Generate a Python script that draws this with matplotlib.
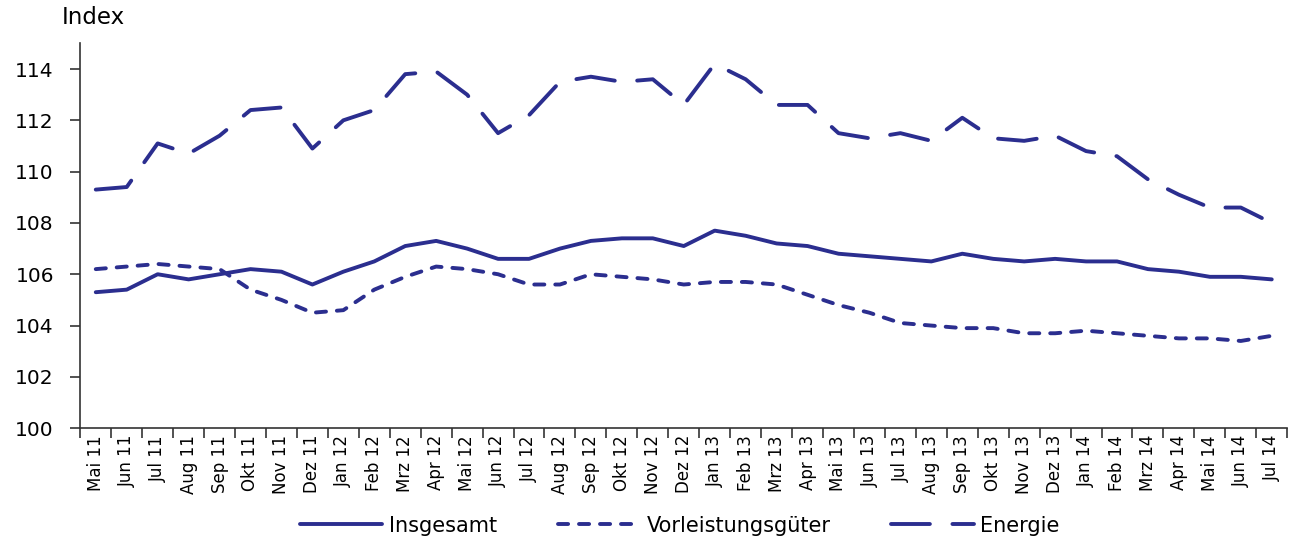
import matplotlib.pyplot as plt

# Monate Mai 2011 bis Juli 2014
months = ['Mai', 'Jun', 'Jul', 'Aug', 'Sep', 'Okt', 'Nov', 'Dez',
          'Jan', 'Feb', 'Mrz', 'Apr', 'Mai', 'Jun', 'Jul', 'Aug', 'Sep', 'Okt', 'Nov', 'Dez',
          'Jan', 'Feb', 'Mrz', 'Apr', 'Mai', 'Jun', 'Jul', 'Aug', 'Sep', 'Okt', 'Nov', 'Dez',
          'Jan', 'Feb', 'Mrz', 'Apr', 'Mai', 'Jun', 'Jul']
years = ['11'] * 8 + ['12'] * 12 + ['13'] * 12 + ['14'] * 7
labels = [m + ' ' + y for m, y in zip(months, years)]

insgesamt = [105.3, 105.4, 106.0, 105.8, 106.0, 106.2, 106.1, 105.6,
             106.1, 106.5, 107.1, 107.3, 107.0, 106.6, 106.6, 107.0, 107.3, 107.4, 107.4, 107.1,
             107.7, 107.5, 107.2, 107.1, 106.8, 106.7, 106.6, 106.5, 106.8, 106.6, 106.5, 106.6,
             106.5, 106.5, 106.2, 106.1, 105.9, 105.9, 105.8]

vorleistung = [106.2, 106.3, 106.4, 106.3, 106.2, 105.4, 105.0, 104.5,
               104.6, 105.4, 105.9, 106.3, 106.2, 106.0, 105.6, 105.6, 106.0, 105.9, 105.8, 105.6,
               105.7, 105.7, 105.6, 105.2, 104.8, 104.5, 104.1, 104.0, 103.9, 103.9, 103.7, 103.7,
               103.8, 103.7, 103.6, 103.5, 103.5, 103.4, 103.6]

energie = [109.3, 109.4, 111.1, 110.7, 111.4, 112.4, 112.5, 110.9,
           112.0, 112.4, 113.8, 113.9, 113.0, 111.5, 112.2, 113.5, 113.7, 113.5, 113.6, 112.6,
           114.2, 113.6, 112.6, 112.6, 111.5, 111.3, 111.5, 111.2, 112.1, 111.3, 111.2, 111.4,
           110.8, 110.6, 109.7, 109.1, 108.6, 108.6, 108.0]

color = '#2b2e8f'
x = list(range(len(labels)))

fig = plt.figure(figsize=(12.95, 5.42), dpi=100)
ax = fig.add_axes([0.062, 0.21, 0.932, 0.71])

ax.plot(x, insgesamt, color=color, lw=2.8, solid_capstyle='round', label='Insgesamt')
ax.plot(x, vorleistung, color=color, lw=2.8, linestyle=(0, (2.6, 2.8)),
        dash_capstyle='round', label='Vorleistungsgüter')
ax.plot(x, energie, color=color, lw=2.8, linestyle=(0, (10, 5.8)),
        dash_capstyle='round', label='Energie')

ax.spines['right'].set_color('none')
ax.spines['top'].set_color('none')
for s in ['left', 'bottom']:
    ax.spines[s].set_linewidth(1.2)
    ax.spines[s].set_color('#333333')

ax.set_ylim(100, 115)
ax.set_yticks(range(100, 115, 2))
ax.set_xlim(-0.5, len(labels) - 0.5)
ax.set_xticks([i - 0.5 for i in range(len(labels) + 1)])
ax.set_xticklabels([])
ax.set_xticks(x, minor=True)
ax.set_xticklabels(labels, minor=True, rotation=90, fontsize=12)
ax.tick_params(axis='x', which='minor', length=0, pad=5)
ax.tick_params(axis='x', which='major', length=7, width=1.2, color='#333333')
ax.tick_params(axis='y', length=7, width=1.2, color='#333333', labelsize=14.5, pad=12)

fig.text(0.048, 0.968, 'Index', fontsize=16.5, va='center', ha='left')

fig.legend(loc='center', bbox_to_anchor=(0.525, 0.03), ncol=3, frameon=False,
           fontsize=15, handlelength=3.95, columnspacing=2.9, handletextpad=0.33)

fig.savefig('out.png', dpi=100)
